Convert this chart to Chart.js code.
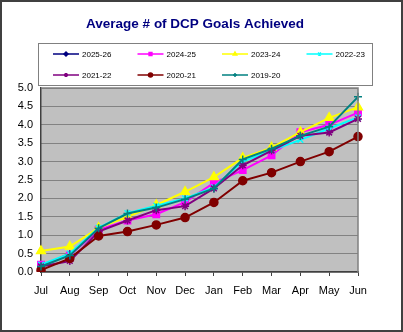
<!DOCTYPE html>
<html>
<head>
<meta charset="utf-8">
<script src="https://cdn.jsdelivr.net/npm/chart.js@4/dist/chart.umd.min.js"></script>
<style>
  html, body { margin: 0; padding: 0; background: #fff; }
  #wrap { width: 403px; height: 332px; position: relative; }
</style>
</head>
<body>
<div id="wrap"><canvas id="goals" width="403" height="332"></canvas></div>
<script>
var months = ['Jul', 'Aug', 'Sep', 'Oct', 'Nov', 'Dec', 'Jan', 'Feb', 'Mar', 'Apr', 'May', 'Jun'];
var yTicks = [0, 0.5, 1, 1.5, 2, 2.5, 3, 3.5, 4, 4.5, 5];

var s2025 = [0.15, 0.5, null, null, null, null, null, null, null, null, null, null];
var s2024 = [0.2, 0.45, 1.15, 1.4, 1.57, 1.9, 2.42, 2.77, 3.17, 3.8, 4.0, 4.33];
var s2023 = [0.57, 0.69, 1.2, 1.5, 1.82, 2.18, 2.58, 3.1, 3.38, 3.8, 4.19, 4.48];
var s2022 = [0.2, 0.5, 1.2, 1.6, 1.8, 2.0, 2.3, 3.0, 3.3, 3.59, 3.9, 4.2];
var s2021 = [0.15, 0.3, 1.1, 1.4, 1.68, 1.79, 2.27, 2.9, 3.3, 3.7, 3.79, 4.16];
var s2020 = [0.05, 0.37, 0.98, 1.1, 1.28, 1.48, 1.89, 2.48, 2.7, 3.0, 3.27, 3.68];
var s2019 = [0.15, 0.45, 1.19, 1.59, 1.75, 1.98, 2.27, 3.06, 3.35, 3.7, 3.95, 4.76];

function series(label, data, color, style, r, i) {
    return {
        label: label,
        data: data,
        borderColor: color,
        backgroundColor: color,
        pointBorderColor: color,
        pointBackgroundColor: color,
        pointStyle: style,
        pointRadius: r,
        pointBorderWidth: 1.5,
        borderWidth: 2,
        tension: 0,
        spanGaps: false,
        order: 6 - i
    };
}

// plot background, frame, title and the boxed legend
var decor = {
    id: 'decor',
    beforeDraw: function(chart) {
        var c = chart.ctx, a = chart.chartArea;
        c.save();
        c.fillStyle = '#c0c0c0';
        c.fillRect(a.left, a.top, a.right - a.left, a.bottom - a.top);
        c.restore();
    },
    afterDraw: function(chart) {
        var c = chart.ctx, a = chart.chartArea;
        c.save();
        c.strokeStyle = '#808080';
        c.lineWidth = 1.5;
        c.beginPath();
        c.moveTo(a.left, a.top);
        c.lineTo(a.right, a.top);
        c.lineTo(a.right, a.bottom);
        c.stroke();

        // outer frame
        c.strokeStyle = '#404040';
        c.lineWidth = 2;
        c.strokeRect(1, 1, 401, 330);

        // title
        c.fillStyle = '#000080';
        c.font = 'bold 13.5px "Liberation Sans", Arial, sans-serif';
        c.textAlign = 'center';
        c.textBaseline = 'middle';
        c.fillText('Average # of DCP Goals Achieved', 195, 24);

        // legend box
        c.fillStyle = '#fff';
        c.fillRect(38, 43, 334, 42);
        c.strokeStyle = '#808080';
        c.lineWidth = 1;
        c.strokeRect(38.5, 43.5, 334, 42);

        c.font = '8px "Liberation Sans", Arial, sans-serif';
        c.textAlign = 'left';
        chart.data.datasets.forEach(function(ds, i) {
            var col = i % 4, row = Math.floor(i / 4);
            var x = 53 + col * 84.5, y = 54 + row * 21;
            c.strokeStyle = ds.borderColor;
            c.lineWidth = 1.5;
            c.beginPath();
            c.moveTo(x, y);
            c.lineTo(x + 26, y);
            c.stroke();
            c.fillStyle = ds.borderColor;
            Chart.helpers.drawPoint(c, {
                pointStyle: ds.pointStyle,
                radius: 2,
                borderWidth: 1
            }, x + 13, y);
            c.fillStyle = '#000';
            c.fillText(ds.label, x + 29, y + 0.5);
        });
        c.restore();
    }
};

new Chart(document.getElementById('goals'), {
    type: 'line',
    data: {
        labels: months,
        datasets: [
            series('2025-26', s2025, '#000080', 'rectRot', 2.5, 0),
            series('2024-25', s2024, '#ff00ff', 'rect', 4.5, 1),
            series('2023-24', s2023, '#ffff00', 'triangle', 5, 2),
            series('2022-23', s2022, '#00ffff', 'crossRot', 4, 3),
            series('2021-22', s2021, '#800080', 'star', 4, 4),
            series('2020-21', s2020, '#800000', 'circle', 4, 5),
            series('2019-20', s2019, '#008080', 'cross', 4, 6)
        ]
    },
    options: {
        responsive: false,
        animation: false,
        layout: { padding: { left: 0, right: 45, top: 88, bottom: 36 } },
        plugins: {
            legend: { display: false },
            title: { display: false },
            tooltip: { enabled: false }
        },
        scales: {
            x: {
                offset: false,
                afterFit: function(s) { s.height = 24; },
                grid: { drawOnChartArea: false, drawTicks: true, tickLength: 4, color: '#404040' },
                border: { color: '#404040', width: 1.5 },
                ticks: {
                    color: '#000',
                    padding: 8,
                    maxRotation: 0,
                    autoSkip: false,
                    font: { family: '"Liberation Sans", Arial, sans-serif', size: 11 }
                }
            },
            y: {
                min: 0,
                max: 5,
                afterFit: function(s) { s.width = 41; },
                afterBuildTicks: function(s) { s.ticks = yTicks.map(function(v) { return { value: v }; }); },
                grid: { color: '#444', lineWidth: 1, drawTicks: false },
                border: { color: '#404040', width: 1.5, dash: [1, 1] },
                ticks: {
                    color: '#000',
                    padding: 8,
                    callback: function(v) { return Number(v).toFixed(1); },
                    font: { family: '"Liberation Sans", Arial, sans-serif', size: 11 }
                }
            }
        }
    },
    plugins: [decor]
});
</script>
</body>
</html>
